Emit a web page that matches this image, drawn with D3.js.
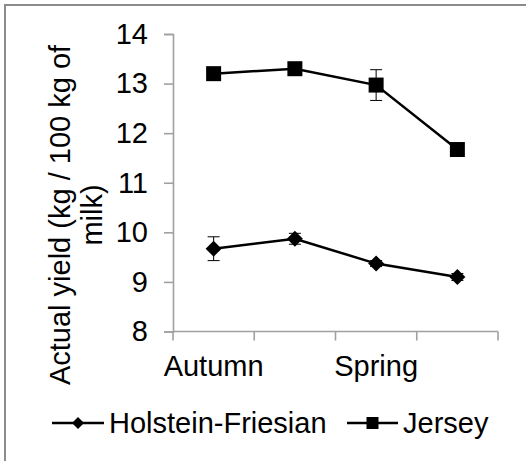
<!DOCTYPE html>
<html>
<head>
<meta charset="utf-8">
<script src="https://cdn.jsdelivr.net/npm/d3@7"></script>
<style>
  body { margin: 0; background: #fff; }
  svg { display: block; font-family: "Liberation Sans", Arial, sans-serif; }
</style>
</head>
<body>
<div id="chart"></div>
<script>
// categories (Excel shows every other label)
const categories = ["Autumn", "", "Spring", ""];
const seriesNames = ["Holstein-Friesian", "Jersey"];
const holsteinValues = [9.67, 9.87, 9.37, 9.10];
const holsteinErrors = [0.24, 0.11, 0.06, 0.07];
const jerseyValues = [13.20, 13.30, 12.97, 11.67];
const jerseyErrors = [0.05, 0.05, 0.31, 0.05];
const yTicks = [8, 9, 10, 11, 12, 13, 14];

const W = 526, H = 461;
const margin = { top: 34, right: 28, bottom: 129, left: 173 };
const FS = 29;

const svg = d3.select("#chart").append("svg")
  .attr("width", W).attr("height", H);

// outer chart border (cropped on right / bottom)
svg.append("rect")
  .attr("x", 5).attr("y", 5)
  .attr("width", W + 10).attr("height", H + 10)
  .attr("fill", "none").attr("stroke", "#8c8c8c").attr("stroke-width", 2);

const x = d3.scaleBand()
  .domain(d3.range(categories.length))
  .range([margin.left, W - margin.right]);
const y = d3.scaleLinear().domain([8, 14]).range([H - margin.bottom - 0.5, margin.top]);

const axisColor = "#a0a0a0";

// y axis
const yAxis = svg.append("g")
  .attr("transform", `translate(${margin.left},0)`)
  .call(d3.axisLeft(y).tickValues(yTicks).tickFormat(d3.format("d")).tickSize(9).tickPadding(16));
yAxis.attr("font-size", null).attr("font-family", null);
yAxis.select(".domain").attr("stroke", axisColor).attr("stroke-width", 1.6);
yAxis.selectAll(".tick line").attr("stroke", axisColor).attr("stroke-width", 1.6);
yAxis.selectAll(".tick text")
  .style("font-size", FS + "px").attr("fill", "#000");

// x axis (ticks at band boundaries)
const xAxisY = y(8);
const xg = svg.append("g");
xg.append("line")
  .attr("x1", x.range()[0]).attr("x2", x.range()[1])
  .attr("y1", xAxisY).attr("y2", xAxisY)
  .attr("stroke", axisColor).attr("stroke-width", 1.6);
const bounds = d3.range(categories.length + 1).map(i => x.range()[0] + i * x.step());
xg.selectAll("line.tk").data(bounds).enter().append("line")
  .attr("class", "tk")
  .attr("x1", d => d).attr("x2", d => d)
  .attr("y1", xAxisY).attr("y2", xAxisY + 9)
  .attr("stroke", axisColor).attr("stroke-width", 1.6);
xg.selectAll("text").data(categories).enter().append("text")
  .attr("x", (d, i) => x(i) + x.bandwidth() / 2)
  .attr("y", 376)
  .attr("text-anchor", "middle")
  .style("font-size", FS + "px")
  .text(d => d);

// y axis title (two lines)
const title = svg.append("text")
  .attr("transform", `translate(0,215) rotate(-90)`)
  .attr("text-anchor", "middle")
  .style("font-size", FS + "px");
title.append("tspan").attr("x", 0).attr("y", 70).text("Actual yield (kg / 100 kg of");
title.append("tspan").attr("x", 0).attr("y", 102).text("milk)");

// square-ish diamond as in Excel
const diamond = r => `M0,${-r}L${r},0L0,${r}L${-r},0Z`;
const square = r => `M${-r},${-r}H${r}V${r}H${-r}Z`;

const series = [
  { name: seriesNames[0], values: holsteinValues, errors: holsteinErrors, shape: diamond, r: 8 },
  { name: seriesNames[1], values: jerseyValues, errors: jerseyErrors, shape: square, r: 7.5 }
];

const cx = i => x(i) + x.bandwidth() / 2;
const line = d3.line().x((d, i) => cx(i)).y(d => y(d));

series.forEach(s => {
  const g = svg.append("g");
  // error bars
  s.values.forEach((v, i) => {
    const e = s.errors[i];
    g.append("line")
      .attr("x1", cx(i)).attr("x2", cx(i))
      .attr("y1", y(v - e)).attr("y2", y(v + e))
      .attr("stroke", "#000").attr("stroke-width", 1);
    [v - e, v + e].forEach(c => {
      g.append("line")
        .attr("x1", cx(i) - 6).attr("x2", cx(i) + 6)
        .attr("y1", y(c)).attr("y2", y(c))
        .attr("stroke", "#000").attr("stroke-width", 1);
    });
  });
  g.append("path")
    .attr("d", line(s.values))
    .attr("fill", "none").attr("stroke", "#000").attr("stroke-width", 2.5);
  g.selectAll("path.m").data(s.values).enter().append("path")
    .attr("class", "m")
    .attr("transform", (d, i) => `translate(${cx(i)},${y(d)})`)
    .attr("d", s.shape(s.r))
    .attr("fill", "#000");
});

// legend
const legendY = 423;
const legendItems = [
  { x0: 52, x1: 104, tx: 109, shape: diamond, r: 6 },
  { x0: 347, x1: 398, tx: 403, shape: square, r: 6 }
];
legendItems.forEach((it, k) => {
  const g = svg.append("g");
  g.append("line")
    .attr("x1", it.x0).attr("x2", it.x1)
    .attr("y1", legendY).attr("y2", legendY)
    .attr("stroke", "#000").attr("stroke-width", 2.5);
  g.append("path")
    .attr("transform", `translate(${(it.x0 + it.x1) / 2},${legendY})`)
    .attr("d", it.shape(it.r))
    .attr("fill", "#000");
  g.append("text")
    .attr("x", it.tx).attr("y", legendY + 10)
    .style("font-size", FS + "px")
    .text(seriesNames[k]);
});
</script>
</body>
</html>
